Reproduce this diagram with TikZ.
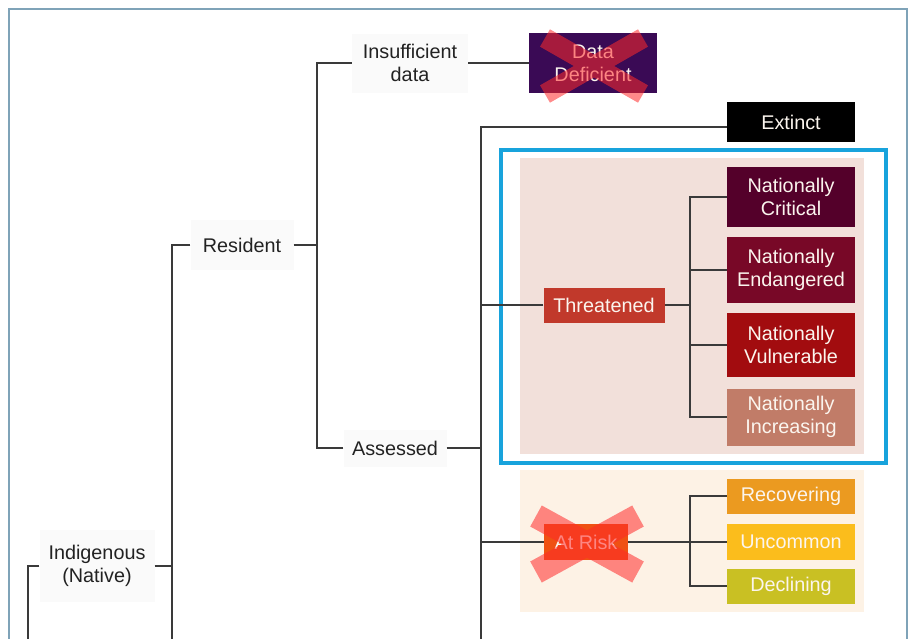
\documentclass[tikz,border=0pt]{standalone}
\usepackage{fontspec}
\setsansfont{Liberation Sans}
\usetikzlibrary{positioning}

\definecolor{framegray}{HTML}{7FA3B8}
\definecolor{linkgray}{HTML}{3A3A3A}
\definecolor{labelgray}{HTML}{FAFAFA}
\definecolor{textdark}{HTML}{222222}
\definecolor{boxtext}{HTML}{FBF5EE}
\definecolor{ddpurple}{HTML}{3A0A55}
\definecolor{hiblue}{HTML}{18A3DC}
\definecolor{thrpanel}{HTML}{F2E0DA}
\definecolor{thrred}{HTML}{C1392B}
\definecolor{ncred}{HTML}{54002A}
\definecolor{nered}{HTML}{780827}
\definecolor{nvred}{HTML}{A20C0F}
\definecolor{nired}{HTML}{C17C68}
\definecolor{riskpanel}{HTML}{FDF2E5}
\definecolor{riskorange}{HTML}{EF5113}
\definecolor{recorange}{HTML}{EB9A20}
\definecolor{uncyellow}{HTML}{FBBD1C}
\definecolor{decolive}{HTML}{C9C023}
\definecolor{crossred}{HTML}{FF2A2A}

\begin{document}
\begin{tikzpicture}[x = 1pt, y = -1pt, font = \sffamily\fontsize{19.8}{23}\selectfont]
	\tikzstyle{labelStyle} = [fill = labelgray, text = textdark, align = center, inner sep = 0pt]
	\tikzstyle{boxStyle} = [text = boxtext, align = center, inner sep = 0pt, minimum width = 128pt]
	\tikzstyle{linkStyle} = [draw = linkgray, line width = 1.4pt]
	\tikzstyle{crossStyle} = [draw = crossred, opacity = 0.55]
	\useasboundingbox (0,0) rectangle (909,638);
	\draw[draw = framegray, line width = 1.3pt] (9,9) rectangle (907,660);
	% panels
	\fill[thrpanel] (520,158) rectangle (864,454);
	\fill[riskpanel] (520,470) rectangle (864,612);
	\draw[draw = hiblue, line width = 4pt] (501,150) rectangle (886,463);
	% labels
	\node[labelStyle, minimum width = 116pt, minimum height = 59pt] (insuff) at (410,63) {Insufficient\\data};
	\node[labelStyle, minimum width = 103pt, minimum height = 50pt] (resident) at (242,245) {Resident};
	\node[labelStyle, minimum width = 103pt, minimum height = 37pt] (assessed) at (395,448) {Assessed};
	\node[labelStyle, minimum width = 115pt, minimum height = 72pt] (indig) at (97,566) {Indigenous\\(Native)};
	% categories
	\node[boxStyle, fill = ddpurple, minimum height = 60pt] (dd) at (593,63) {Data\\Deficient};
	\node[boxStyle, fill = black, minimum height = 40pt] (extinct) at (791,122) {Extinct};
	\node[boxStyle, fill = thrred, minimum width = 121pt, minimum height = 35pt] (threat) at (604,305) {Threatened};
	\node[boxStyle, fill = ncred, minimum height = 60pt] (nc) at (791,197) {Nationally\\Critical};
	\node[boxStyle, fill = nered, minimum height = 66pt] (ne) at (791,270) {Nationally\\Endangered};
	\node[boxStyle, fill = nvred, minimum height = 64pt] (nv) at (791,345) {Nationally\\Vulnerable};
	\node[boxStyle, fill = nired, minimum height = 57pt] (ni) at (791,417) {Nationally\\Increasing};
	\node[boxStyle, fill = riskorange, minimum width = 84pt, minimum height = 36pt] (atrisk) at (586,542) {At Risk};
	\node[boxStyle, fill = recorange, minimum height = 35pt] (recov) at (791,496) {Recovering};
	\node[boxStyle, fill = uncyellow, minimum height = 36pt] (uncom) at (791,542) {Uncommon};
	\node[boxStyle, fill = decolive, minimum height = 35pt] (declin) at (791,586) {Declining};
	% junctions
	\coordinate (nativeEnd) at (28,660);
	\coordinate (indigEnd) at (172,660);
	\coordinate (assessEnd) at (481,660);
	\coordinate (resJ) at (317,245);
	\coordinate (thrJ) at (690,305);
	\coordinate (riskJ) at (690,542);
	% links
	\draw[linkStyle] (indig.west) -| (nativeEnd);
	\draw[linkStyle] (indig.east) -| (indigEnd);
	\draw[linkStyle] (resident.west) -| (indigEnd);
	\draw[linkStyle] (resident.east) -- (resJ);
	\draw[linkStyle] (insuff.west) -| (resJ);
	\draw[linkStyle] (assessed.west) -| (resJ);
	\draw[linkStyle] (insuff.east) -- (dd.west);
	\draw[linkStyle] (assessed.east) -| (assessEnd);
	\draw[linkStyle] (extinct.west) ++(0,5) -| (assessEnd);
	\draw[linkStyle] (threat.west) -| (assessEnd);
	\draw[linkStyle] (atrisk.west) -| (assessEnd);
	\draw[linkStyle] (threat.east) -- (thrJ);
	\draw[linkStyle] (nc.west) -| (thrJ);
	\draw[linkStyle] (ne.west) -| (thrJ);
	\draw[linkStyle] (nv.west) -| (thrJ);
	\draw[linkStyle] (ni.west) -| (thrJ);
	\draw[linkStyle] (atrisk.east) -- (riskJ);
	\draw[linkStyle] (recov.west) -| (riskJ);
	\draw[linkStyle] (uncom.west) -- (riskJ);
	\draw[linkStyle] (declin.west) -| (riskJ);
	% crossed out
	\draw[crossStyle, line width = 20pt] (545,38) -- (643,94) (643,38) -- (545,94);
	\draw[crossStyle, line width = 24pt] (536,516) -- (638,572) (638,516) -- (536,572);
\end{tikzpicture}
\end{document}
